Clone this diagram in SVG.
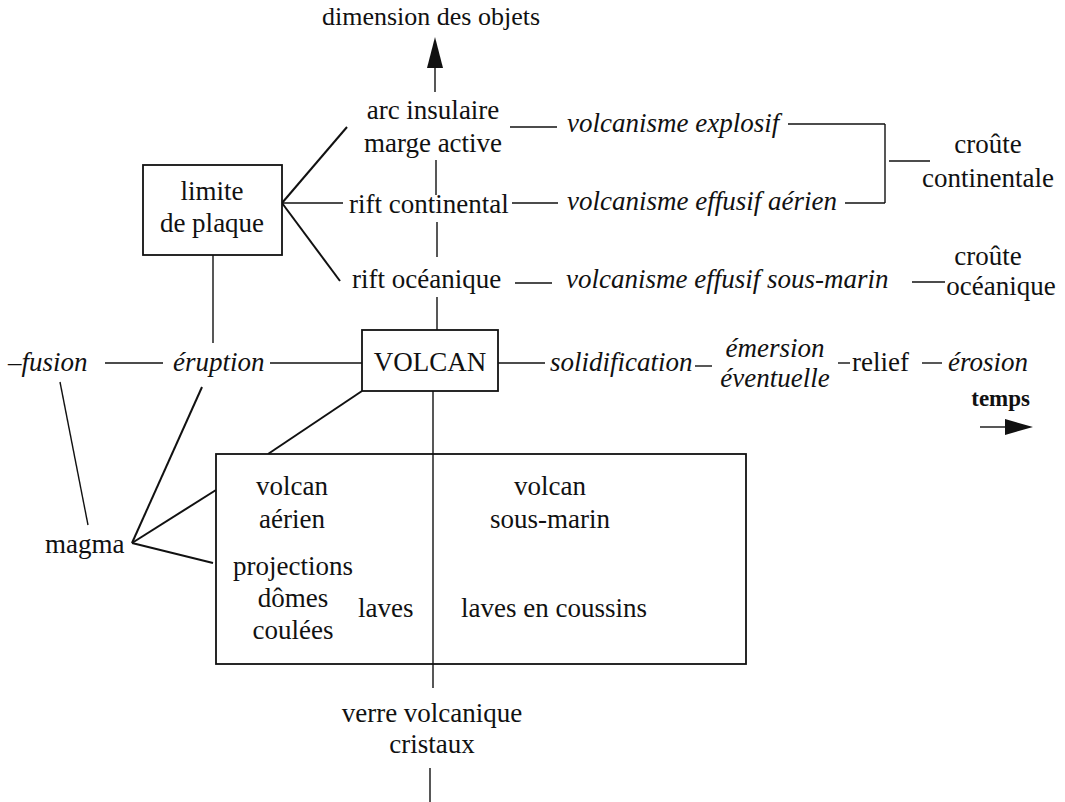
<svg xmlns="http://www.w3.org/2000/svg" width="1065" height="802" viewBox="0 0 1065 802">
<style>
text{font-family:"Liberation Serif","Times New Roman",serif;font-size:27px;fill:#111}
.i{font-style:italic}
.c{text-anchor:middle}
.b{font-weight:bold;font-size:23px}
.ln{stroke:#111;stroke-width:1.4;fill:none}
.th{stroke:#111;stroke-width:2;fill:none}
.bx{stroke:#111;stroke-width:1.8;fill:#fff}
.ah{fill:#111;stroke:none}
</style>
<rect width="1065" height="802" fill="#fff"/>
<g id="connectors">
  <line class="ln" x1="435" y1="92" x2="435" y2="66"/>
  <polygon class="ah" points="435,37 427,68 443,68"/>
  <line class="ln" x1="436" y1="160" x2="436" y2="195"/>
  <line class="ln" x1="437" y1="222" x2="437" y2="257"/>
  <line class="ln" x1="437" y1="297" x2="437" y2="330"/>
  <line class="th" x1="282" y1="203" x2="347" y2="127"/>
  <line class="ln" x1="282" y1="203" x2="343" y2="203"/>
  <line class="th" x1="282" y1="203" x2="340" y2="281"/>
  <line class="ln" x1="510" y1="127" x2="557" y2="127"/>
  <line class="ln" x1="512" y1="203" x2="558" y2="203"/>
  <line class="ln" x1="515" y1="283" x2="552" y2="283"/>
  <line class="ln" x1="788" y1="124" x2="885" y2="124"/>
  <line class="ln" x1="845" y1="203" x2="885" y2="203"/>
  <line class="ln" x1="885" y1="124" x2="885" y2="203"/>
  <line class="ln" x1="889" y1="161" x2="930" y2="161"/>
  <line class="ln" x1="912" y1="282" x2="945" y2="282"/>
  <line class="ln" x1="213" y1="255" x2="213" y2="343"/>
  <line class="ln" x1="105" y1="363" x2="163" y2="363"/>
  <line class="ln" x1="270" y1="363" x2="362" y2="363"/>
  <line class="ln" x1="498" y1="363" x2="545" y2="363"/>
  <line class="ln" x1="695" y1="366" x2="712" y2="366"/>
  <line class="ln" x1="838" y1="363" x2="850" y2="363"/>
  <line class="ln" x1="922" y1="363" x2="942" y2="363"/>
  <line class="ln" x1="980" y1="427" x2="1008" y2="427"/>
  <polygon class="ah" points="1033,427 1005,419 1005,435"/>
  <line class="th" x1="362" y1="391" x2="268" y2="454"/>
  <line class="ln" x1="433" y1="391" x2="433" y2="688"/>
  <line class="ln" x1="430" y1="768" x2="430" y2="802"/>
  <line class="ln" x1="60" y1="382" x2="88" y2="525"/>
  <line class="th" x1="132" y1="543" x2="202" y2="387"/>
  <line class="th" x1="132" y1="543" x2="216" y2="490"/>
  <line class="th" x1="132" y1="543" x2="213" y2="563"/>
</g>
<g id="dimension"><text class="c" x="431" y="25" style="font-size:26px">dimension des objets</text></g>
<g id="arc"><text class="c" x="433" y="119">arc insulaire</text><text class="c" x="433" y="152">marge active</text></g>
<g id="rift-continental"><text x="349" y="213">rift continental</text></g>
<g id="rift-oceanique"><text x="352" y="288">rift océanique</text></g>
<g id="limite"><rect class="bx" x="143" y="165" width="139" height="90"/><text class="c" x="212" y="200">limite</text><text class="c" x="212" y="232">de plaque</text></g>
<g id="explosif"><text class="i" x="567" y="132">volcanisme explosif</text></g>
<g id="effusif-aerien"><text class="i" x="567" y="210">volcanisme effusif aérien</text></g>
<g id="effusif-sous-marin"><text class="i" x="566" y="288">volcanisme effusif sous-marin</text></g>
<g id="croute-continentale"><text class="c" x="988" y="153">croûte</text><text class="c" x="988" y="187">continentale</text></g>
<g id="croute-oceanique"><text class="c" x="988" y="265">croûte</text><text class="c" x="1001" y="295">océanique</text></g>
<g id="volcan"><rect class="bx" x="362" y="330" width="136" height="61"/><text class="c" x="430" y="371">VOLCAN</text></g>
<g id="fusion"><text class="i" x="8" y="371">–fusion</text></g>
<g id="eruption"><text class="i" x="173" y="371">éruption</text></g>
<g id="solidification"><text class="i" x="550" y="371">solidification</text></g>
<g id="emersion"><text class="i c" x="775" y="357">émersion</text><text class="i c" x="775" y="387">éventuelle</text></g>
<g id="relief"><text x="852" y="371">relief</text></g>
<g id="erosion"><text class="i" x="948" y="371">érosion</text></g>
<g id="temps"><text class="b" x="1030" y="406" text-anchor="end">temps</text></g>
<g id="magma"><text x="45" y="553">magma</text></g>
<g id="types"><rect class="bx" x="216" y="454" width="530" height="210"/>
  <line class="ln" x1="433" y1="454" x2="433" y2="664"/>
  <text class="c" x="292" y="495">volcan</text><text class="c" x="292" y="528">aérien</text>
  <text class="c" x="293" y="575">projections</text><text class="c" x="293" y="607">dômes</text><text class="c" x="293" y="639">coulées</text>
  <text x="358" y="617">laves</text>
  <text class="c" x="550" y="495">volcan</text><text class="c" x="550" y="528">sous-marin</text>
  <text x="461" y="617">laves en coussins</text>
</g>
<g id="verre"><text class="c" x="432" y="722">verre volcanique</text><text class="c" x="432" y="753">cristaux</text></g>
</svg>
